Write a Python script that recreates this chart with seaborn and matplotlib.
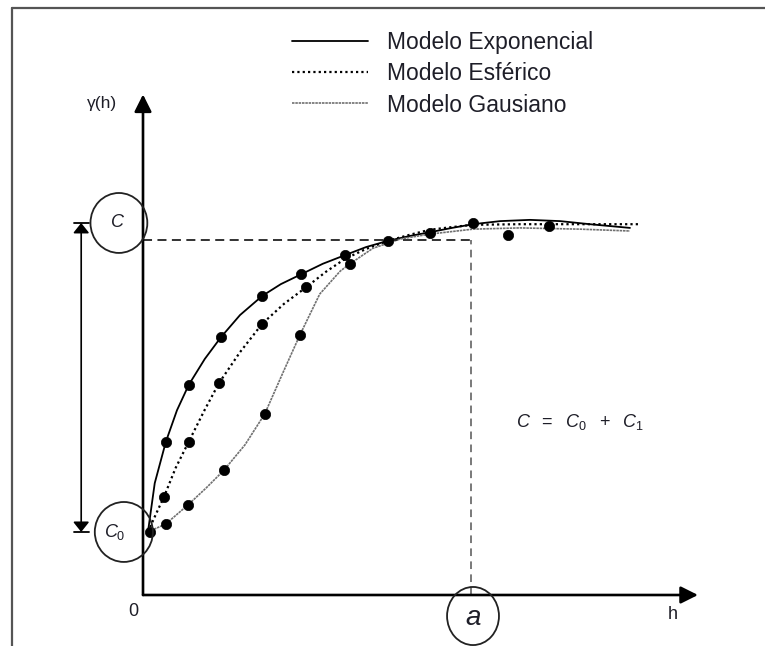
import matplotlib
matplotlib.use("Agg")
import matplotlib.pyplot as plt
from matplotlib.patches import Ellipse
from matplotlib.lines import Line2D
import seaborn as sns

sns.set_style("white")
plt.rcParams["font.family"] = ["Liberation Sans", "DejaVu Sans"]
plt.rcParams["mathtext.fontset"] = "custom"
plt.rcParams["mathtext.it"] = "Liberation Sans:italic"
plt.rcParams["mathtext.rm"] = "Liberation Sans"

TXT = "#1e1e28"

# ---- fitted model curves: lag h vs semivariance gamma(h) ----
exp_h = [0.08, 0.19, 0.37, 0.55, 0.74, 1.00, 1.26, 1.57, 1.93, 2.23, 2.56, 2.91,
         3.27, 3.61, 3.96, 4.32, 4.64, 5.00, 5.34, 5.78, 6.26, 6.75, 7.23, 7.88]
exp_g = [1.02, 1.81, 2.48, 2.99, 3.40, 3.82, 4.17, 4.53, 4.84, 5.03, 5.19, 5.36,
         5.50, 5.63, 5.73, 5.81, 5.87, 5.94, 6.00, 6.05, 6.07, 6.05, 6.00, 5.94]

sph_h = [0.08, 0.21, 0.34, 0.53, 0.74, 0.99, 1.23, 1.57, 1.93, 2.28, 2.64, 2.96,
         3.27, 3.61, 3.96, 4.32, 4.64, 4.97, 5.34, 6.10, 7.07, 8.04]
sph_g = [1.02, 1.31, 1.59, 2.06, 2.48, 2.98, 3.43, 3.93, 4.39, 4.71, 4.98, 5.23,
         5.44, 5.60, 5.73, 5.83, 5.91, 5.95, 5.99, 6.00, 6.00, 6.00]

gau_h = [0.08, 0.37, 0.73, 1.02, 1.31, 1.65, 1.97, 2.27, 2.54, 2.86, 3.19, 3.35,
         3.72, 4.16, 4.64, 5.34, 6.10, 7.07, 7.88]
gau_g = [1.02, 1.15, 1.46, 1.73, 2.02, 2.43, 2.93, 3.61, 4.21, 4.87, 5.24, 5.36,
         5.61, 5.76, 5.84, 5.92, 5.94, 5.92, 5.89]

# ---- experimental semivariogram points ----
pt_origin_h = [0.11]
pt_origin_g = [1.02]
pt_exp_h = [0.37, 0.74, 1.26, 1.93, 2.56]
pt_exp_g = [2.48, 3.40, 4.17, 4.84, 5.19]
pt_sph_h = [0.34, 0.74, 1.23, 1.93, 2.64]
pt_sph_g = [1.59, 2.48, 3.43, 4.39, 4.98]
pt_gau_h = [0.37, 0.73, 1.31, 1.97, 2.54, 3.35]
pt_gau_g = [1.15, 1.46, 2.02, 2.93, 4.21, 5.36]
pt_tail_h = [3.27, 3.96, 4.64, 5.34, 5.91, 6.57]
pt_tail_g = [5.50, 5.73, 5.86, 6.02, 5.83, 5.97]

# ---- model parameters ----
nugget = 1.02       # C0
sill = 6.02         # C = C0 + C1
practical = 5.75    # 95 % of the sill
range_a = 5.3       # a

xticks = [1.3, 2.3, 3.3, 4.3, 5.3, 6.3, 7.3]
yticks = [1, 2, 3, 4, 5, 6, 7]
labels = ["Modelo Exponencial", "Modelo Esférico", "Modelo Gausiano"]

W, H = 765, 646
fig = plt.figure(figsize=(W / 100, H / 100), dpi=100)
unit = 61.8
xmax, ymax = 8.98, 8.1
ax = fig.add_axes([143 / W, 51 / H, xmax * unit / W, ymax * unit / H])
ax.set_xlim(0, xmax)
ax.set_ylim(0, ymax)
for s in ax.spines.values():
    s.set_visible(False)

# model curves
sns.lineplot(x=exp_h, y=exp_g, ax=ax, sort=False, estimator=None, color="black",
             lw=1.3, label=labels[0])
sns.lineplot(x=sph_h, y=sph_g, ax=ax, sort=False, estimator=None, color="black",
             lw=1.6, label=labels[1]).lines[-1].set_linestyle((0, (1, 1.4)))
sns.lineplot(x=gau_h, y=gau_g, ax=ax, sort=False, estimator=None, color="#707070",
             lw=1.2, label=labels[2]).lines[-1].set_linestyle((0, (1.5, 0.5)))

# sample points
for hh, gg in [(pt_origin_h, pt_origin_g), (pt_exp_h, pt_exp_g), (pt_sph_h, pt_sph_g),
               (pt_gau_h, pt_gau_g), (pt_tail_h, pt_tail_g)]:
    sns.scatterplot(x=hh, y=gg, ax=ax, color="black", s=55, edgecolor="black",
                    linewidth=0.5, zorder=5, legend=False)

# range / sill guides
ax.plot([0, range_a], [practical, practical], color="#222222", lw=1.3,
        dashes=(5, 3), zorder=2)
ax.plot([range_a, range_a], [0, practical], color="#555555", lw=1.1,
        dashes=(5, 3.5), zorder=2)

# axes with arrow heads
arrow = dict(arrowstyle="-|>,head_length=0.8,head_width=0.4", color="black",
             lw=1.9, mutation_scale=13, shrinkA=0, shrinkB=0)
ax.annotate("", xy=(xmax, 0), xytext=(0, 0), arrowprops=arrow, annotation_clip=False)
ax.annotate("", xy=(0, ymax), xytext=(0, 0), arrowprops=arrow, annotation_clip=False)

ax.set_xticks(xticks)
ax.set_yticks(yticks)
ax.set_xticklabels([])
ax.set_yticklabels([])
ax.tick_params(axis="both", direction="out", length=9.5, width=1.5, color="#555555")
ax.set_xlabel("")
ax.set_ylabel("")

# circled labels
ell = dict(fill=False, lw=1.3, ec="#222222", clip_on=False, zorder=6)
ax.add_patch(Ellipse((-0.39, sill), 0.92, 0.97, **ell))
ax.add_patch(Ellipse((-0.31, nugget), 0.94, 0.97, **ell))
ax.add_patch(Ellipse((5.34, -0.34), 0.84, 0.94, **ell))
ax.text(-0.42, sill, "C", fontsize=13, style="italic", color=TXT, ha="center",
        va="center", clip_on=False)
ax.text(-0.45, nugget, r"$C_{\mathit{0}}$", fontsize=13, color=TXT, ha="center",
        va="center", clip_on=False)
ax.text(5.34, -0.38, "a", fontsize=20, style="italic", color=TXT, ha="center",
        va="center", clip_on=False)
ax.text(-0.16, -0.27, "0", fontsize=13, color=TXT, ha="center", va="center", clip_on=False)
ax.text(8.58, -0.31, "h", fontsize=13, color=TXT, ha="center", va="center", clip_on=False)
ax.text(-0.66, 7.95, "γ(h)", fontsize=12.5, color=TXT, ha="center", va="center",
        clip_on=False)
ax.text(7.07, 2.80, r"$C\ \ =\ \ C_{\mathit{0}}\ \ +\ \ C_{\mathit{1}}$", fontsize=13,
        color=TXT, ha="center", va="center")

# C1 span arrow
ax.annotate("", xy=(-1.0, sill), xytext=(-1.0, nugget), annotation_clip=False,
            arrowprops=dict(arrowstyle="<|-|>,head_length=0.5,head_width=0.4",
                            color="black", lw=1.2, mutation_scale=12, shrinkA=0, shrinkB=0))
for yy in (sill, nugget):
    ax.plot([-1.12, -0.88], [yy, yy], color="black", lw=1.3, clip_on=False)

leg = ax.legend(loc="upper left", bbox_to_anchor=(292 / W, 1 - 31 / H),
                bbox_transform=fig.transFigure, frameon=False, fontsize=16.5,
                handlelength=3.3, handletextpad=0.85, labelspacing=0.36,
                borderpad=0, borderaxespad=0)
for t in leg.get_texts():
    t.set_color(TXT)

# page frame
fig.add_artist(Line2D([12 / W, 1], [1 - 8 / H, 1 - 8 / H], transform=fig.transFigure,
                      color="#555555", lw=1.6))
fig.add_artist(Line2D([12 / W, 12 / W], [0, 1 - 8 / H], transform=fig.transFigure,
                      color="#555555", lw=1.6))

fig.savefig("out.png", dpi=100)
